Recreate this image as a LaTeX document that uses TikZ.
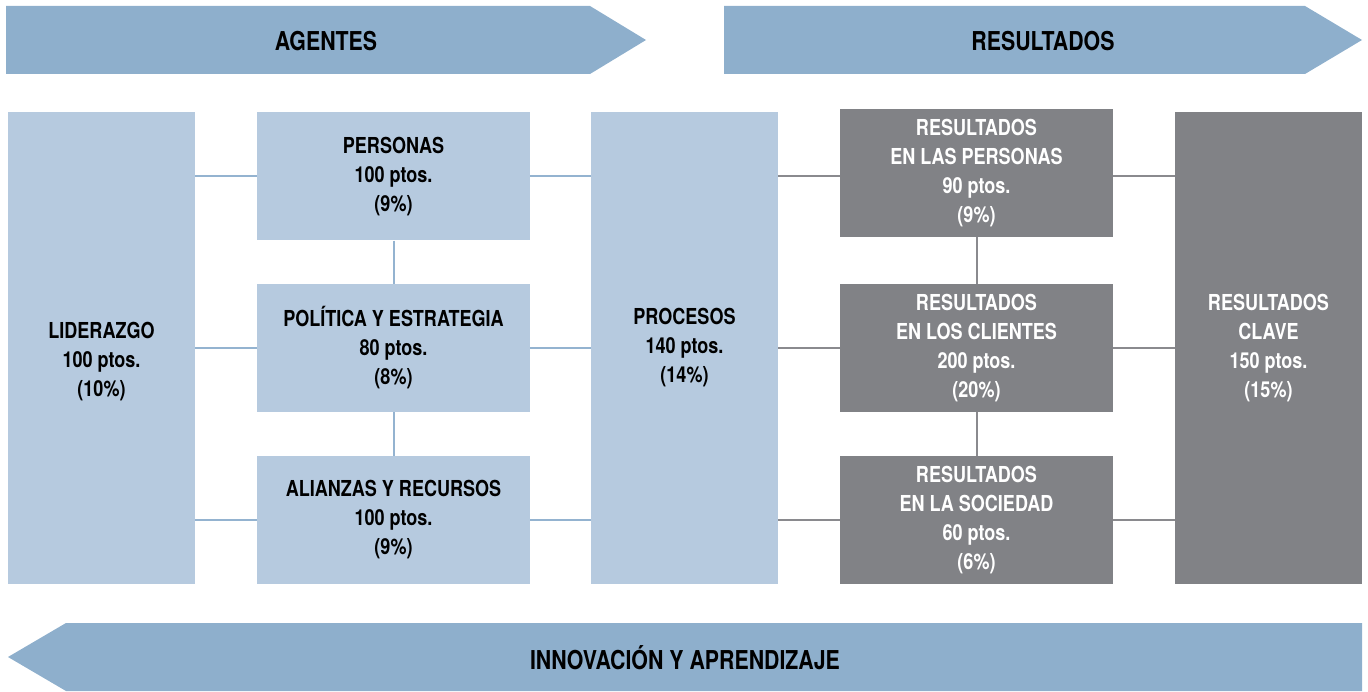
\documentclass[tikz,border=0pt]{standalone}
\usepackage{fontspec}
\setmainfont{TeX Gyre Heros}[FakeStretch=0.82]
\usetikzlibrary{calc}
\definecolor{bandBlue}{RGB}{142,175,204}
\definecolor{boxBlue}{RGB}{182,202,223}
\definecolor{boxGrey}{RGB}{129,130,134}
\definecolor{lineBlue}{RGB}{148,179,208}
\definecolor{lineGrey}{RGB}{138,138,142}

\begin{document}
\begin{tikzpicture}[x=1pt,y=-1pt,
  boxtext/.style={font=\fontsize{22}{29}\selectfont\bfseries,align=center},
  bandlabel/.style={font=\fontsize{26}{30}\selectfont\bfseries,text=black},
  agentbox/.style={boxtext,fill=boxBlue,text=black,inner sep=0pt,minimum width=273pt,minimum height=128pt},
  resbox/.style={boxtext,fill=boxGrey,text=white,inner sep=0pt,minimum width=273pt,minimum height=128pt},
  tallbox/.style={inner sep=0pt,minimum width=187pt,minimum height=472pt},
  bluelink/.style={draw=lineBlue,line width=2pt},
  greylink/.style={draw=lineGrey,line width=2pt}]
\useasboundingbox (0,0) rectangle (1368,692);

\fill[bandBlue] (6,6) -- (590,6) -- (646,40) -- (590,74) -- (6,74) -- cycle;
\node[bandlabel] (agentes) at (326,41) {AGENTES};
\fill[bandBlue] (724,6) -- (1305,6) -- (1362,40) -- (1305,74) -- (724,74) -- cycle;
\node[bandlabel] (resultados) at (1043,41) {RESULTADOS};
\fill[bandBlue] (8,657) -- (66,623) -- (1362,623) -- (1362,691) -- (66,691) -- cycle;
\node[bandlabel] (innovacion) at (685,658) {INNOVACIÓN Y APRENDIZAJE};

\node[agentbox,tallbox,label={[boxtext,yshift=-14pt]center:LIDERAZGO\\100 ptos.\\(10\%)}] (lid) at (101.5,348) {};
\node[agentbox] (per) at (393.5,176.5) {PERSONAS\\100 ptos.\\(9\%)};
\node[agentbox] (pol) at (393.5,348) {POLÍTICA Y ESTRATEGIA\\80 ptos.\\(8\%)};
\node[agentbox] (ali) at (393.5,520) {ALIANZAS Y RECURSOS\\100 ptos.\\(9\%)};
\node[agentbox,tallbox] (proc) at (684.5,348) {PROCESOS\\140 ptos.\\(14\%)};
\node[resbox] (rpe) at (976.5,173) {RESULTADOS\\EN LAS PERSONAS\\90 ptos.\\(9\%)};
\node[resbox] (rcl) at (976.5,348) {RESULTADOS\\EN LOS CLIENTES\\200 ptos.\\(20\%)};
\node[resbox] (rso) at (976.5,520) {RESULTADOS\\EN LA SOCIEDAD\\60 ptos.\\(6\%)};
\node[resbox,tallbox] (clave) at (1268.5,348) {RESULTADOS\\CLAVE\\150 ptos.\\(15\%)};

\foreach \a in {per,pol,ali}{
  \draw[bluelink] (lid.east |- \a.west) -- (\a.west);
  \draw[bluelink] (\a.east) -- (proc.west |- \a.east);
}
\draw[bluelink] (per.south) -- (pol.north);
\draw[bluelink] (pol.south) -- (ali.north);
\foreach \a/\b in {per/rpe,pol/rcl,ali/rso}{
  \draw[greylink] (proc.east |- \a.east) -- (\b.west |- \a.east);
  \draw[greylink] (\b.east |- \a.east) -- (clave.west |- \a.east);
}
\draw[greylink] (rpe.south) -- (rcl.north);
\draw[greylink] (rcl.south) -- (rso.north);
\end{tikzpicture}
\end{document}
